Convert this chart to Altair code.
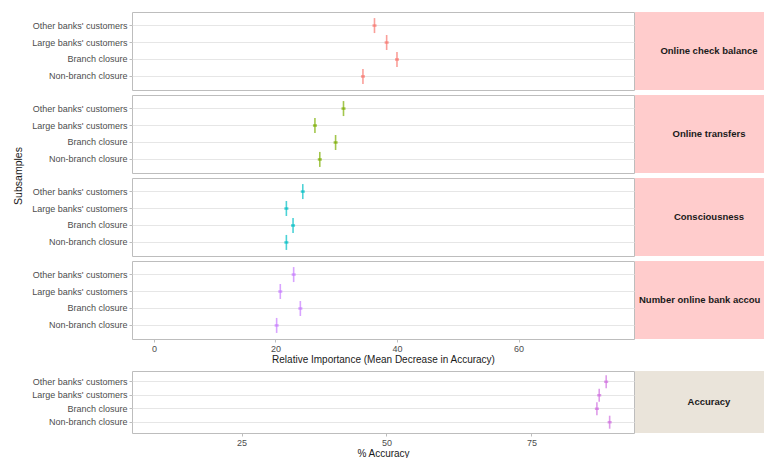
import altair as alt
import pandas as pd

subsamples = ["Other banks' customers", "Large banks' customers", "Branch closure", "Non-branch closure"]

panels = ["Online check balance", "Online transfers", "Consciousness", "Number online bank accounts"]
panel_colors = ["#F8766D", "#7CAE00", "#00BFC4", "#C77CFF"]
importance = [
    [36.3, 38.3, 40.0, 34.4],
    [31.2, 26.5, 29.9, 27.3],
    [24.5, 21.8, 22.9, 21.8],
    [23.0, 20.8, 24.1, 20.2],
]
accuracy = [87.9, 86.7, 86.3, 88.5]
accuracy_color = "#D070E0"

imp_ticks = [0, 20, 40, 60]
acc_ticks = [25, 50, 75]

W = 502
H_TOP = 78
H_ACC = 62
STRIP_W = 129
FONT = "Liberation Sans"

y_base = dict(
    labelFontSize=9, labelColor="#4D4D4D", labelFont=FONT, tickColor="#BDBDBD",
    tickSize=3, labelPadding=2, domain=False, grid=True, gridColor="#E6E6E6",
    gridWidth=1,
)
x_base = dict(
    labelFontSize=9, labelColor="#4D4D4D", labelFont=FONT, tickColor="#BDBDBD",
    tickSize=3, domain=False, grid=False, titleFont=FONT, titleFontSize=10,
    titleFontWeight="normal", titleColor="#1A1A1A", titlePadding=1, labelPadding=2,
)


def panel(values, color, label, idx, is_acc=False):
    df = pd.DataFrame({"sub": subsamples, "val": values})
    h = H_ACC if is_acc else H_TOP
    if is_acc:
        xscale = alt.Scale(domain=[6.1, 92.7], nice=False, zero=False)
        xaxis = alt.Axis(values=acc_ticks, title="% Accuracy", **x_base)
    elif idx == 3:
        xscale = alt.Scale(domain=[-3.6, 79], nice=False, zero=False)
        xaxis = alt.Axis(values=imp_ticks,
                         title="Relative Importance (Mean Decrease in Accuracy)", **x_base)
    else:
        xscale = alt.Scale(domain=[-3.6, 79], nice=False, zero=False)
        xaxis = None

    if idx == 1:
        yaxis = alt.Axis(title="Subsamples", titleFont=FONT, titleFontSize=10.5,
                         titleFontWeight="normal", titleColor="#1A1A1A",
                         titlePadding=8, titleY=80.5, **y_base)
    else:
        yaxis = alt.Axis(title=None, **y_base)

    yscale = alt.Scale(domain=subsamples, padding=0.6)
    base = alt.Chart(df).encode(
        y=alt.Y("sub:N", scale=yscale, axis=yaxis, sort=subsamples),
    )
    vtick = base.mark_tick(orient="vertical", color=color, size=13 if is_acc else 15,
                           thickness=1.6).encode(
        x=alt.X("val:Q", scale=xscale, axis=xaxis))
    htick = base.mark_tick(orient="horizontal", color=color, size=4, thickness=2.5).encode(
        x=alt.X("val:Q", scale=xscale, axis=xaxis))

    strip_df = pd.DataFrame({"label": [label]})
    strip_color = "#EAE4DA" if is_acc else "#FFCCCC"
    rect = alt.Chart(strip_df).mark_rect(color=strip_color).encode(
        x=alt.value(W + 1), x2=alt.value(W + 1 + STRIP_W),
        y=alt.value(0), y2=alt.value(h))
    long = len(label) > 22
    text = alt.Chart(strip_df).mark_text(
        font=FONT, fontSize=9.5, fontWeight="bold", color="#1A1A1A",
        align="left" if long else "center", baseline="middle",
        limit=STRIP_W - 3 if long else 0, ellipsis=" ",
    ).encode(
        text="label:N",
        x=alt.value(W + 5 if long else W + 75),
        y=alt.value(h / 2))

    return alt.layer(vtick, htick, rect, text).properties(width=W, height=h)


spacer = alt.Chart(pd.DataFrame({"a": [0]})).mark_point(opacity=0).encode(
    x=alt.value(0), y=alt.value(0)
).properties(width=W, height=22, view=alt.ViewBackground(stroke="transparent"))

rows = [panel(importance[i], panel_colors[i], panels[i], i) for i in range(4)]
rows.append(spacer)
rows.append(panel(accuracy, accuracy_color, "Accuracy", 4, is_acc=True))

chart = alt.vconcat(*rows, spacing=5, bounds="flush").properties(
    padding={"left": 13, "top": 11, "right": 0, "bottom": 0},
    background="white",
).configure_view(stroke="#BDBDBD", strokeWidth=1).configure_axis(titleFont=FONT)

chart.save("out.html", embed_options={"renderer": "svg", "actions": False})
